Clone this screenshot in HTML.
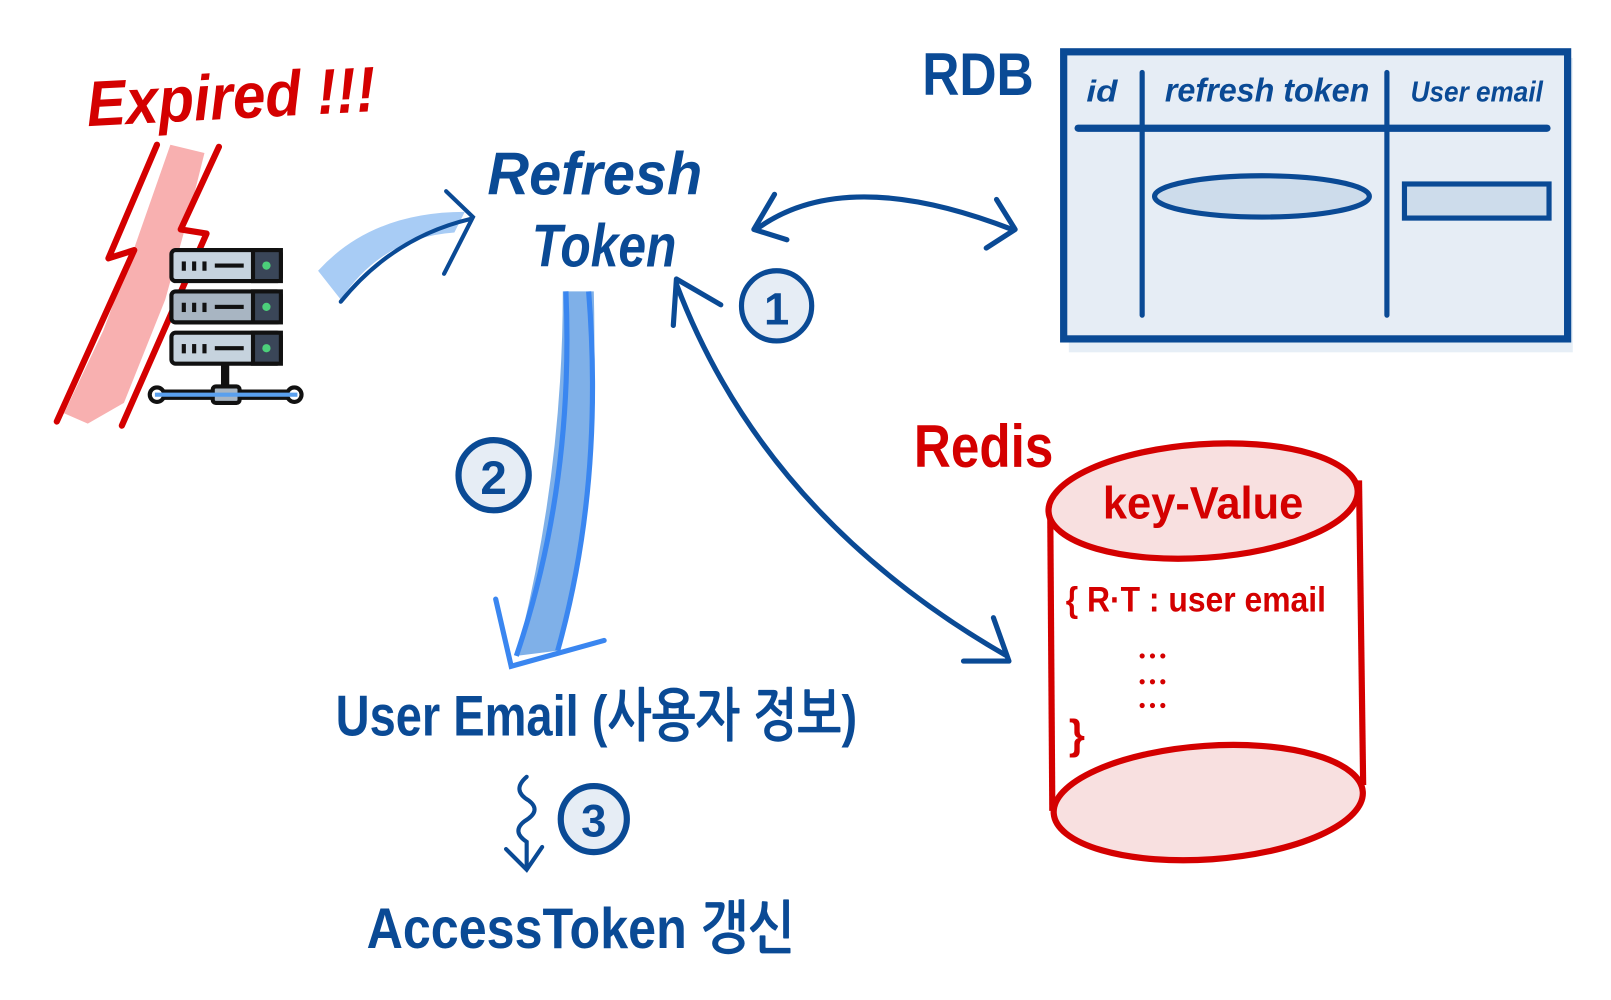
<!DOCTYPE html>
<html><head><meta charset="utf-8"><style>
html,body{margin:0;padding:0;background:#fff;width:1611px;height:1000px;overflow:hidden}
svg{display:block}
text{font-family:"Liberation Sans","NanumGothic",sans-serif;font-weight:bold}
</style></head><body>
<svg width="1611" height="1000" viewBox="0 0 1560 968" xmlns="http://www.w3.org/2000/svg">
<!-- Expired -->
<text x="85" y="122" font-size="62" fill="#d40000" font-style="italic" textLength="280" lengthAdjust="spacingAndGlyphs" transform="rotate(-3 85 122)">Expired !!!</text>
<!-- lightning -->
<path d="M165 140 L198 148 L185 200 L160 290 L120 390 L85 410 L62 400 L100 320 L130 240 Z" fill="#f7a7a7" opacity="0.9"/>
<path d="M152 140 L105 250 L130 242 L55 408" fill="none" stroke="#d40000" stroke-width="6" stroke-linecap="round" stroke-linejoin="round"/>
<path d="M212 142 L175 222 L200 226 L118 412" fill="none" stroke="#d40000" stroke-width="6" stroke-linecap="round" stroke-linejoin="round"/>
<!-- server -->
<g stroke="#111" stroke-width="4">
<rect x="166" y="242" width="106" height="30" rx="4" fill="#c6d3de"/>
<rect x="166" y="282" width="106" height="30" rx="4" fill="#a8b5c2"/>
<rect x="166" y="322" width="106" height="30" rx="4" fill="#c6d3de"/>
<rect x="245" y="242" width="27" height="30" fill="#3a4658"/>
<rect x="245" y="282" width="27" height="30" fill="#3a4658"/>
<rect x="245" y="322" width="27" height="30" fill="#3a4658"/>
<line x1="218" y1="352" x2="218" y2="380" stroke="#111" stroke-width="8"/>
<line x1="150" y1="382" x2="288" y2="382" stroke-width="10"/>
<circle cx="152" cy="382" r="7" fill="#fff"/><circle cx="285" cy="382" r="7" fill="#fff"/>
<rect x="206" y="374" width="26" height="16" rx="3" fill="#a8b5c2"/>
</g>
<g fill="#111"><rect x="176" y="253" width="4" height="9"/><rect x="186" y="253" width="4" height="9"/><rect x="196" y="253" width="4" height="9"/><rect x="208" y="255" width="28" height="4"/>
<rect x="176" y="293" width="4" height="9"/><rect x="186" y="293" width="4" height="9"/><rect x="196" y="293" width="4" height="9"/><rect x="208" y="295" width="28" height="4"/>
<rect x="176" y="333" width="4" height="9"/><rect x="186" y="333" width="4" height="9"/><rect x="196" y="333" width="4" height="9"/><rect x="208" y="335" width="28" height="4"/></g>
<line x1="150" y1="382" x2="288" y2="382" stroke="#5aa0ee" stroke-width="4"/>
<g fill="#4cd07a"><circle cx="258" cy="257" r="4"/><circle cx="258" cy="297" r="4"/><circle cx="258" cy="337" r="4"/></g>
<!-- blue arrow to refresh -->
<path d="M308 262 Q360 205 450 205 L440 225 Q370 230 330 290 Z" fill="#a8ccf5"/>
<path d="M330 292 Q380 230 455 212" fill="none" stroke="#0a4a95" stroke-width="4" stroke-linecap="round"/>
<path d="M432 185 L458 210 L430 265" fill="none" stroke="#0a4a95" stroke-width="4" stroke-linecap="round"/>
<!-- Refresh Token -->
<text x="472" y="188" font-size="58" fill="#0a4a95" font-style="italic" textLength="208" lengthAdjust="spacingAndGlyphs">Refresh</text>
<text x="515" y="258" font-size="58" fill="#0a4a95" font-style="italic" textLength="140" lengthAdjust="spacingAndGlyphs">Token</text>
<!-- RDB -->
<text x="893" y="92" font-size="58" fill="#0a4a95" textLength="108" lengthAdjust="spacingAndGlyphs">RDB</text>
<rect x="1035" y="56" width="488" height="285" fill="#e6eef6"/>
<rect x="1030" y="50" width="488" height="278" fill="#e6edf5" stroke="#0a4a95" stroke-width="7"/>
<line x1="1044" y1="124" x2="1498" y2="124" stroke="#0a4a95" stroke-width="7" stroke-linecap="round"/>
<line x1="1106" y1="70" x2="1106" y2="305" stroke="#0a4a95" stroke-width="5" stroke-linecap="round"/>
<line x1="1343" y1="70" x2="1343" y2="305" stroke="#0a4a95" stroke-width="5" stroke-linecap="round"/>
<text x="1052" y="98" font-size="30" fill="#0a4a95" font-weight="normal" font-style="italic" textLength="30" lengthAdjust="spacingAndGlyphs">id</text>
<text x="1128" y="98" font-size="32" fill="#0a4a95" font-weight="normal" font-style="italic" textLength="198" lengthAdjust="spacingAndGlyphs">refresh token</text>
<text x="1366" y="98" font-size="28" fill="#0a4a95" font-weight="normal" font-style="italic" textLength="128" lengthAdjust="spacingAndGlyphs">User email</text>
<ellipse cx="1222" cy="190" rx="104" ry="20" fill="#cddceb" stroke="#0a4a95" stroke-width="5"/>
<rect x="1360" y="178" width="140" height="33" fill="#cddceb" stroke="#0a4a95" stroke-width="5"/>
<!-- double arrow to RDB -->
<path d="M735 220 Q820 160 980 222" fill="none" stroke="#0a4a95" stroke-width="5" stroke-linecap="round"/>
<path d="M750 188 L730 222 L762 232" fill="none" stroke="#0a4a95" stroke-width="5" stroke-linecap="round" stroke-linejoin="round"/>
<path d="M965 193 L983 222 L955 240" fill="none" stroke="#0a4a95" stroke-width="5" stroke-linecap="round" stroke-linejoin="round"/>
<!-- circle 1 -->
<circle cx="752" cy="296" r="34" fill="#e6edf5" stroke="#0a4a95" stroke-width="5"/>
<text x="752" y="314" font-size="44" fill="#0a4a95" text-anchor="middle" font-weight="normal">1</text>
<!-- arrow to redis -->
<path d="M655 275 Q740 500 975 635" fill="none" stroke="#0a4a95" stroke-width="5" stroke-linecap="round"/>
<path d="M698 295 L655 270 L652 315" fill="none" stroke="#0a4a95" stroke-width="5" stroke-linecap="round" stroke-linejoin="round"/>
<path d="M962 598 L977 640 L933 640" fill="none" stroke="#0a4a95" stroke-width="5" stroke-linecap="round" stroke-linejoin="round"/>
<!-- big blue down arrow -->
<path d="M545 282 L575 282 Q580 480 540 630 L500 635 Q545 460 545 282 Z" fill="#7fb0e8"/>
<path d="M548 282 Q556 470 500 635" fill="none" stroke="#3a86f0" stroke-width="5"/>
<path d="M570 282 Q585 470 540 630" fill="none" stroke="#3a86f0" stroke-width="5"/>
<path d="M480 580 L495 645 L585 620" fill="none" stroke="#3a86f0" stroke-width="5" stroke-linecap="round"/>
<!-- circle 2 -->
<circle cx="478" cy="460" r="34" fill="#e6edf5" stroke="#0a4a95" stroke-width="6"/>
<text x="478" y="478" font-size="46" fill="#0a4a95" text-anchor="middle">2</text>
<!-- User Email -->
<text x="325" y="712" font-size="56" fill="#0a4a95" textLength="505" lengthAdjust="spacingAndGlyphs">User Email (사용자 정보)</text>
<!-- squiggle arrow -->
<path d="M510 752 Q495 765 512 775 Q525 785 508 795 Q495 805 510 815 L510 840" fill="none" stroke="#0a4a95" stroke-width="4" stroke-linecap="round"/>
<path d="M490 822 L510 842 L525 820" fill="none" stroke="#0a4a95" stroke-width="4" stroke-linecap="round"/>
<circle cx="575" cy="793" r="32" fill="#e6edf5" stroke="#0a4a95" stroke-width="6"/>
<text x="575" y="810" font-size="44" fill="#0a4a95" text-anchor="middle">3</text>
<text x="355" y="918" font-size="56" fill="#0a4a95" textLength="415" lengthAdjust="spacingAndGlyphs">AccessToken 갱신</text>
<!-- Redis -->
<text x="885" y="452" font-size="58" fill="#d40000" textLength="135" lengthAdjust="spacingAndGlyphs">Redis</text>
<path d="M1017 495 L1019 785 L1320 760 L1316 465 Z" fill="#fff"/>
<line x1="1017" y1="495" x2="1019" y2="785" stroke="#d40000" stroke-width="6"/>
<line x1="1316" y1="465" x2="1320" y2="760" stroke="#d40000" stroke-width="6"/>
<ellipse cx="1165" cy="485" rx="150" ry="55" fill="#f8e0e0" stroke="#d40000" stroke-width="6" transform="rotate(-4 1165 485)"/>
<ellipse cx="1170" cy="777" rx="150" ry="55" fill="#f8e0e0" stroke="#d40000" stroke-width="6" transform="rotate(-4 1170 777)"/>
<text x="1068" y="502" font-size="44" fill="#d40000" textLength="194" lengthAdjust="spacingAndGlyphs">key-Value</text>
<text x="1032" y="592" font-size="34" fill="#d40000" textLength="252" lengthAdjust="spacingAndGlyphs">{ R·T : user email</text>
<g fill="#d40000"><circle cx="1106" cy="635" r="2.5"/><circle cx="1116" cy="635" r="2.5"/><circle cx="1126" cy="635" r="2.5"/>
<circle cx="1106" cy="660" r="2.5"/><circle cx="1116" cy="660" r="2.5"/><circle cx="1126" cy="660" r="2.5"/>
<circle cx="1106" cy="683" r="2.5"/><circle cx="1116" cy="683" r="2.5"/><circle cx="1126" cy="683" r="2.5"/></g>
<text x="1035" y="725" font-size="40" fill="#d40000">}</text>
</svg>
</body></html>
